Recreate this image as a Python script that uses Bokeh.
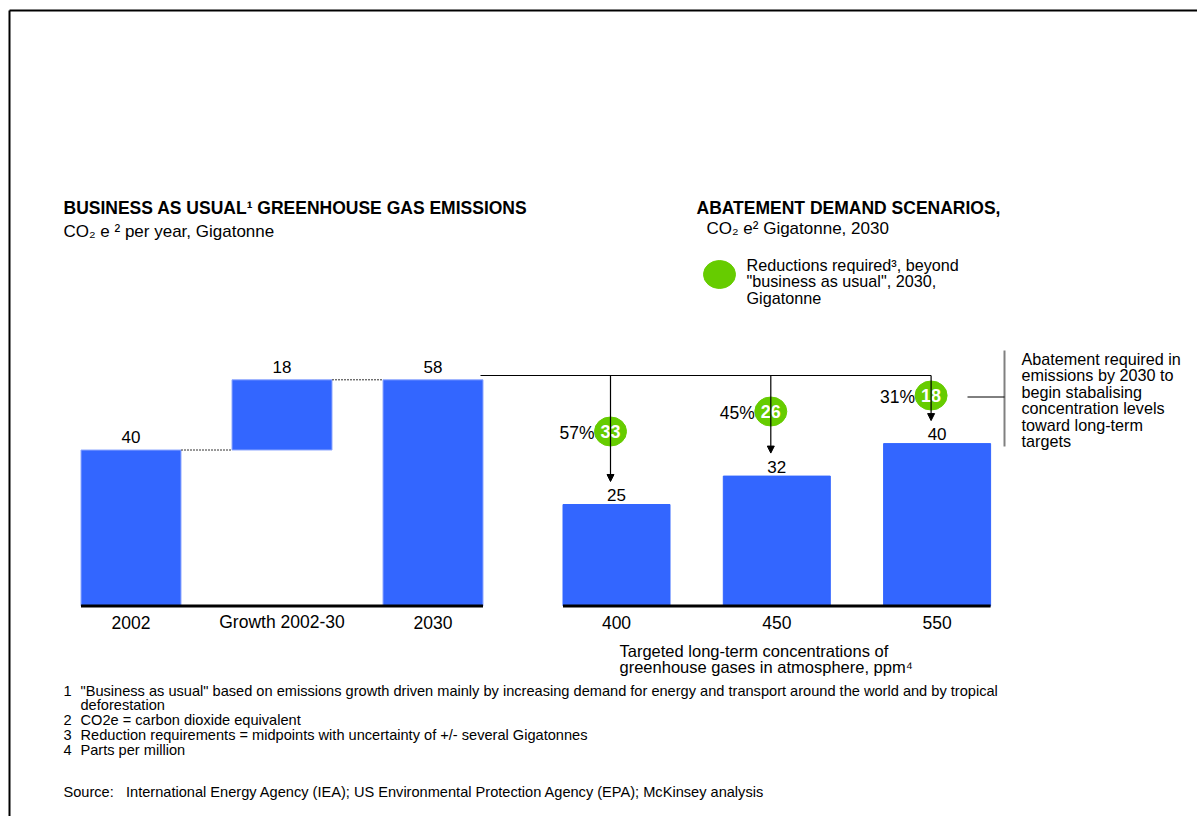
import numpy as np
from bokeh.plotting import figure
from bokeh.models import Range1d, ColumnDataSource, Arrow, NormalHead
from bokeh.core.properties import value
from bokeh.embed import file_html
from bokeh.resources import INLINE

# ---------------- data ----------------
bau_categories = ["2002", "Growth 2002-30", "2030"]
bau_base = 40          # 2002 emissions, Gt
bau_growth = 18        # growth 2002-30, Gt
bau_total = bau_base + bau_growth   # 2030 BAU, Gt

scenario_categories = ["400", "450", "550"]   # ppm targets
scenario_values = [25, 32, 40]                 # allowed emissions 2030, Gt
reductions = [bau_total - v for v in scenario_values]
reduction_pct = [round(r / bau_total * 100) for r in reductions]

footnote_nums = ["1", "", "2", "3", "4"]
footnote_texts = [
    '"Business as usual" based on emissions growth driven mainly by increasing demand for energy and transport around the world and by tropical',
    "deforestation",
    "CO2e = carbon dioxide equivalent",
    "Reduction requirements = midpoints with uncertainty of +/- several Gigatonnes",
    "Parts per million",
]
source_text = "Source:\u00a0\u00a0\u00a0International Energy Agency (IEA); US Environmental Protection Agency (EPA); McKinsey analysis"

# ---------------- layout ----------------
W, H = 1197, 816
FONT = "Liberation Sans"
BAR_COLOR = "#3366FF"
GREEN = "#66CC00"
BASE_PX = 605.5
L_SCALE, R_SCALE = 3.9, 4.06
L_X0, L_STEP, L_BAR_W = 130.5, 151.0, 100.0
R_X0, R_STEP, R_BAR_W = 616.0, 160.3, 107.0
BRACKET_Y_PX = 375
ARROW_DX = -6.0 / R_STEP
CIRCLE_Y_PX = [431, 411, 395]
ARROW_GAP_PX = 23

p = figure(width=W, height=H, x_range=Range1d(0, W), y_range=Range1d(H, 0),
           output_backend="svg", toolbar_location=None, min_border=0,
           x_axis_location=None, y_axis_location=None, title=None)
p.grid.visible = False
p.outline_line_color = None
p.background_fill_color = "white"
p.border_fill_color = "white"

p.extra_x_ranges = {
    "xL": Range1d(-L_X0 / L_STEP, (W - L_X0) / L_STEP),
    "xR": Range1d(-R_X0 / R_STEP, (W - R_X0) / R_STEP),
}
p.extra_y_ranges = {
    "gL": Range1d((BASE_PX - H) / L_SCALE, BASE_PX / L_SCALE),
    "gR": Range1d((BASE_PX - H) / R_SCALE, BASE_PX / R_SCALE),
}


def txt(x, y, t, size="16px", align="left", bold=False, color="black", **kw):
    p.text(x=x, y=y, text=t, text_font=value(FONT), text_font_size=size,
           text_align=align, text_baseline="middle", text_color=color,
           text_font_style="bold" if bold else "normal", **kw)


# frame
p.segment(x0=[9, 9], y0=[10, 10], x1=[9, W], y1=[H, 10], line_color="black", line_width=2)

# ---------------- left chart: waterfall ----------------
wl = L_BAR_W / L_STEP
xl = list(range(len(bau_categories)))
bottoms = [0, bau_base, 0]
tops = [bau_base, bau_total, bau_total]
p.vbar(x=xl, width=wl, bottom=bottoms, top=tops, x_range_name="xL", y_range_name="gL",
       fill_color=BAR_COLOR, line_color="#8FA8FF", line_width=1)
# connectors
p.segment(x0=[0 + wl / 2, 1 + wl / 2], x1=[1 - wl / 2, 2 - wl / 2], y0=[bau_base, bau_total],
          y1=[bau_base, bau_total], x_range_name="xL", y_range_name="gL",
          line_color="#333333", line_width=1, line_dash="2 1")
# axis
p.segment(x0=[-wl / 2], x1=[2 + wl / 2], y0=[0], y1=[0], x_range_name="xL", y_range_name="gL",
          line_color="black", line_width=3)
# value labels
txt(xl, [t + 13 / L_SCALE for t in tops], [str(bau_base), str(bau_growth), str(bau_total)],
    size="17px", align="center", x_range_name="xL", y_range_name="gL")
# category labels
txt(xl, [621.5] * 3, bau_categories, size="17.5px", align="center", x_range_name="xL")

# ---------------- right chart: scenarios ----------------
wr = R_BAR_W / R_STEP
xr = list(range(len(scenario_categories)))
p.vbar(x=xr, width=wr, bottom=0, top=scenario_values, x_range_name="xR", y_range_name="gR",
       fill_color=BAR_COLOR, line_color=BAR_COLOR, line_width=1)
p.segment(x0=[-wr / 2], x1=[2 + wr / 2], y0=[0], y1=[0], x_range_name="xR", y_range_name="gR",
          line_color="black", line_width=3)
txt(xr, [v + 9.5 / R_SCALE for v in scenario_values], [str(v) for v in scenario_values],
    size="17px", align="center", x_range_name="xR", y_range_name="gR")
txt(xr, [621.5] * 3, scenario_categories, size="17.5px", align="center", x_range_name="xR")

# bracket line from BAU 2030 level
p.segment(x0=[480], x1=[R_X0 + (2 + ARROW_DX) * R_STEP], y0=[BRACKET_Y_PX], y1=[BRACKET_Y_PX],
          line_color="black", line_width=1)

# arrows
bracket_level = (BASE_PX - BRACKET_Y_PX) / R_SCALE
asrc = ColumnDataSource(dict(
    x=[i + ARROW_DX for i in xr],
    y0=[bracket_level] * 3,
    y1=[v + ARROW_GAP_PX / R_SCALE for v in scenario_values],
))
p.add_layout(Arrow(x_start="x", y_start="y0", x_end="x", y_end="y1", source=asrc,
                   x_range_name="xR", y_range_name="gR", line_color="black", line_width=1.2,
                   end=NormalHead(size=7, fill_color="black", line_color="black", line_width=1)))

# reduction circles
cx = [i + ARROW_DX for i in xr]
p.ellipse(x=cx, y=CIRCLE_Y_PX, width=32, height=29, width_units="screen", height_units="screen",
          fill_color=GREEN, line_color=GREEN, x_range_name="xR")
txt(cx, CIRCLE_Y_PX, [str(r) for r in reductions], size="18px", align="center", bold=True,
    color="white", x_range_name="xR")
txt([c - 16.0 / R_STEP for c in cx], [y + 1 for y in CIRCLE_Y_PX], [f"{q}%" for q in reduction_pct],
    size="17.5px", align="right", x_range_name="xR")

# right-hand bracket annotation
p.segment(x0=[1004], x1=[1004], y0=[350], y1=[446], line_color="#808080", line_width=2)
p.segment(x0=[967], x1=[1004], y0=[396.5], y1=[396.5], line_color="black", line_width=1)
ann = ["Abatement required in", "emissions by 2030 to", "begin stabalising",
       "concentration levels", "toward long-term", "targets"]
txt([1021] * 6, [358 + 16.5 * k for k in range(6)], ann, size="16.2px")

# ---------------- titles ----------------
txt([63], [207], ["BUSINESS AS USUAL\u00b9 GREENHOUSE GAS EMISSIONS"], size="17.5px", bold=True)
txt([63], [231], ["CO\u2082 e \u00b2 per year, Gigatonne"], size="17px")
txt([696], [207], ["ABATEMENT DEMAND SCENARIOS,"], size="17.5px", bold=True)
txt([706], [228], ["CO\u2082 e\u00b2 Gigatonne, 2030"], size="17px")

# legend
p.ellipse(x=[719], y=[274], width=32, height=28, width_units="screen", height_units="screen",
          fill_color=GREEN, line_color=GREEN)
txt([746] * 3, [264, 280.5, 297],
    ["Reductions required\u00b3, beyond", "\"business as usual\", 2030,", "Gigatonne"], size="16.2px")

# x-axis title for right chart
txt([619, 619], [650, 666], ["Targeted long-term concentrations of",
                             "greenhouse gases in atmosphere, ppm\u2074"], size="16.5px")

# footnotes
fy = [690, 704, 719, 734, 749]
txt([63] * 5, fy, footnote_nums, size="14.6px")
txt([80] * 5, fy, footnote_texts, size="14.6px")
txt([63], [791], [source_text], size="14.6px")

open("out.html", "w").write(file_html(p, INLINE))
